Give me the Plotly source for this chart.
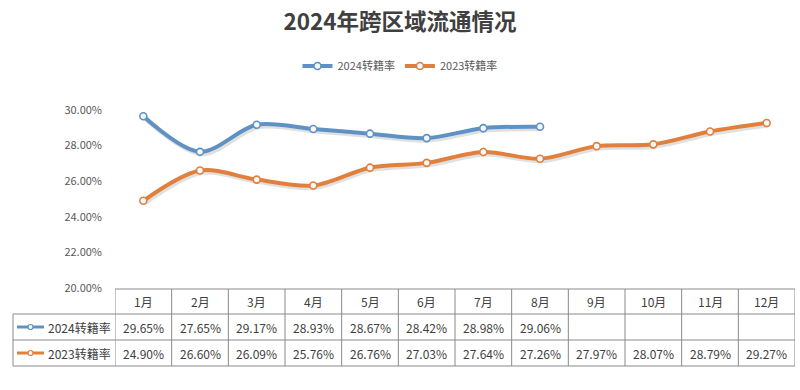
import plotly.graph_objects as go

months = ["1月", "2月", "3月", "4月", "5月", "6月", "7月", "8月", "9月", "10月", "11月", "12月"]
rate_2024 = [29.65, 27.65, 29.17, 28.93, 28.67, 28.42, 28.98, 29.06, None, None, None, None]
rate_2023 = [24.90, 26.60, 26.09, 25.76, 26.76, 27.03, 27.64, 27.26, 27.97, 28.07, 28.79, 29.27]
series_names = ["2024转籍率", "2023转籍率"]
colors = ["#5F92C4", "#E17F3D"]
y_ticks = [20, 22, 24, 26, 28, 30]

W, H = 800, 390
FONT = "Noto Sans CJK SC"

def py(px):
    return (H - px) / H

def px_x(px):
    return px / W

x_left, x_right = 115, 795
y_bot_px, y_top_px = 288, 110  # pixel positions of 20% and 30%
per = (y_bot_px - y_top_px) / 10.0
y_max = 30.5
dom_top = py(y_top_px - (y_max - 30) * per)
dom_bot = py(y_bot_px)

fig = go.Figure()
xs = list(range(len(months)))
# soft shadows on hidden, slightly shifted axes (x / y), drawn first
for name, vals, col in zip(series_names, [rate_2024, rate_2023], colors):
    fig.add_trace(go.Scatter(
        x=xs, y=vals, mode="lines", xaxis="x", yaxis="y",
        line=dict(color="rgba(0,0,0,0.12)", width=5, shape="spline", smoothing=0.9),
        showlegend=False, hoverinfo="skip", connectgaps=False))
# main series on visible axes (x2 / y2)
for name, vals, col in zip(series_names, [rate_2024, rate_2023], colors):
    fig.add_trace(go.Scatter(
        x=xs, y=vals, mode="lines+markers", name=name, xaxis="x2", yaxis="y2",
        line=dict(color=col, width=4, shape="spline", smoothing=0.9),
        marker=dict(symbol="circle", size=7, color="#F4F7FB", line=dict(color=col, width=1.6)),
        connectgaps=False))

shapes = []
line_col = "#8A8A8A"
row_px = [289, 314, 340, 366]
shapes.append(dict(type="line", xref="x2", yref="paper", x0=-0.5, x1=len(months) - 0.5,
                   y0=py(row_px[0]), y1=py(row_px[0]), line=dict(color=line_col, width=1)))
for r in row_px[1:]:
    shapes.append(dict(type="line", xref="paper", yref="paper", x0=px_x(13), x1=px_x(x_right),
                       y0=py(r), y1=py(r), line=dict(color=line_col, width=1)))
shapes.append(dict(type="line", xref="paper", yref="paper", x0=px_x(13), x1=px_x(13),
                   y0=py(row_px[1]), y1=py(row_px[3]), line=dict(color=line_col, width=1)))
for k in range(len(months) + 1):
    shapes.append(dict(type="line", xref="x2", yref="paper", x0=k - 0.5, x1=k - 0.5,
                       y0=py(row_px[0]), y1=py(row_px[3]), line=dict(color=line_col, width=1)))

annotations = []
txt_col = "#404040"
for i, m in enumerate(months):
    annotations.append(dict(x=i, xref="x2", y=py((row_px[0] + row_px[1]) / 2), yref="paper",
                            text=m, showarrow=False, font=dict(family=FONT, size=12, color=txt_col),
                            xanchor="center", yanchor="middle"))
for ri, (name, vals, col) in enumerate(zip(series_names, [rate_2024, rate_2023], colors)):
    yc = (row_px[ri + 1] + row_px[ri + 2]) / 2
    for i, v in enumerate(vals):
        if v is None:
            continue
        annotations.append(dict(x=i, xref="x2", y=py(yc), yref="paper",
                                text=f"{v:.2f}%", showarrow=False,
                                font=dict(family=FONT, size=12, color=txt_col),
                                xanchor="center", yanchor="middle"))
    annotations.append(dict(x=px_x(46), xref="paper", y=py(yc), yref="paper", text=name,
                            showarrow=False, font=dict(family=FONT, size=12, color=txt_col),
                            xanchor="left", yanchor="middle"))
    shapes.append(dict(type="line", xref="paper", yref="paper", x0=px_x(17), x1=px_x(44),
                       y0=py(yc), y1=py(yc), line=dict(color=col, width=3)))
    shapes.append(dict(type="circle", xref="paper", yref="paper", x0=px_x(28), x1=px_x(33),
                       y0=py(yc + 2.5), y1=py(yc - 2.5), fillcolor="#F4F7FB",
                       line=dict(color=col, width=1.2)))

fig.update_layout(
    width=W, height=H,
    margin=dict(l=0, r=0, t=0, b=0),
    paper_bgcolor="white", plot_bgcolor="rgba(0,0,0,0)",
    title=dict(text="<b>2024年跨区域流通情况</b>", x=0.5, xanchor="center", y=py(22), yanchor="middle",
               font=dict(family=FONT, size=22.5, color="#404040")),
    legend=dict(orientation="h", x=0.5, xanchor="center", y=py(66), yanchor="middle",
                font=dict(family=FONT, size=11, color="#595959"), itemwidth=30,
                bgcolor="rgba(0,0,0,0)"),
    xaxis=dict(domain=[px_x(x_left + 1.5), px_x(x_right + 1.5)], range=[-0.5, len(months) - 0.5],
               anchor="y", visible=False, showgrid=False, automargin=False, fixedrange=True),
    yaxis=dict(domain=[dom_bot - 2 / H, dom_top - 2 / H], range=[20, y_max], anchor="x",
               visible=False, showgrid=False, automargin=False, fixedrange=True),
    xaxis2=dict(domain=[px_x(x_left), px_x(x_right)], range=[-0.5, len(months) - 0.5], anchor="y2",
                showgrid=False, zeroline=False, showticklabels=False, showline=False,
                automargin=False, fixedrange=True),
    yaxis2=dict(domain=[dom_bot, dom_top], range=[20, y_max], anchor="x2", tickvals=y_ticks,
                ticktext=[f"{t:.2f}%" for t in y_ticks], showgrid=False, zeroline=False,
                showline=False, ticklabelstandoff=12, automargin=False, fixedrange=True,
                tickfont=dict(family=FONT, size=11, color="#595959")),
    shapes=shapes,
    annotations=annotations,
    showlegend=True,
)
fig.write_html("out.html", config={"displayModeBar": False},
               post_script="document.body.style.margin='0';document.body.style.overflow='hidden';")
